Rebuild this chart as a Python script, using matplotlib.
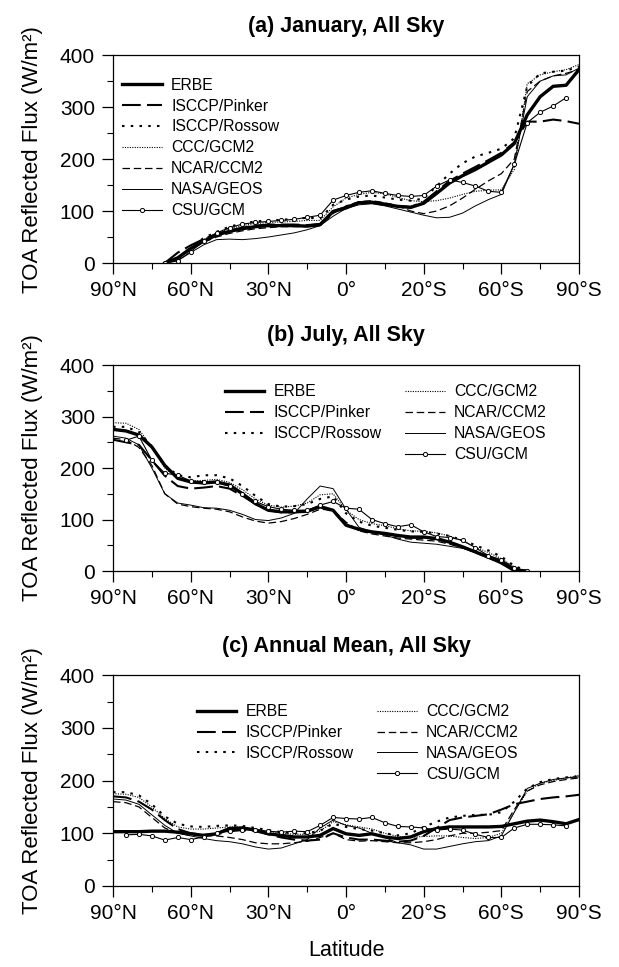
#TOA reflected flux by latitude, three panels (January, July, annual mean)

import numpy as np
import matplotlib
matplotlib.use("Agg")
import matplotlib.pyplot as plt
from matplotlib.lines import Line2D
from matplotlib.ticker import MultipleLocator

plt.rcParams['font.family'] = ['Liberation Sans', 'DejaVu Sans']

nan = np.nan

#latitude grid, north to south
lats = list(range(90, -91, -5))

names = ["ERBE", "ISCCP/Pinker", "ISCCP/Rossow", "CCC/GCM2", "NCAR/CCM2", "NASA/GEOS", "CSU/GCM"]

#(a) January
erbe_jan = [nan,nan,nan,nan,0,10,28,42,54,61,66,70,72,72,72,71,74,99,106,116,117,113,109,107,115,134,154,168,180,194,208,230,285,320,340,342,372]
pinker_jan = [nan,nan,nan,nan,0,20,34,46,56,63,68,72,74,74,74,73,75,100,108,117,118,114,110,108,118,138,158,172,185,198,212,232,272,272,276,273,268]
rossow_jan = [nan,nan,nan,nan,0,8,30,48,60,70,76,80,82,83,85,87,86,112,122,128,130,126,122,120,124,148,172,192,205,212,220,240,340,365,368,370,378]
ccc_jan = [nan,nan,nan,nan,0,8,28,45,58,66,72,76,78,79,80,82,82,108,125,132,136,133,126,120,118,120,125,132,138,140,141,180,345,362,368,372,382]
ncar_jan = [nan,nan,nan,nan,0,8,26,40,50,57,62,66,68,70,70,70,72,95,110,118,120,116,110,100,95,100,110,125,142,158,172,200,330,350,360,365,372]
nasa_jan = [nan,nan,nan,nan,0,5,20,35,45,46,45,47,50,54,58,64,72,90,105,112,114,110,104,98,92,87,88,96,110,122,132,190,320,350,360,362,375]
csu_jan = [nan,nan,nan,nan,0,4,22,42,58,68,75,78,80,82,84,88,92,121,130,136,139,134,130,128,130,148,160,155,148,138,136,190,270,290,302,318,nan]

#(b) July
erbe_jul = [275,272,264,241,205,180,173,171,173,167,150,131,118,115,115,116,125,118,89,81,76,73,69,66,66,63,56,47,37,27,16,1,0,nan,nan,nan,nan]
pinker_jul = [255,250,245,215,185,165,160,162,165,160,146,130,118,114,114,116,124,116,90,80,75,72,68,65,64,62,55,46,36,26,15,2,0,nan,nan,nan,nan]
rossow_jul = [280,280,270,242,205,186,182,186,186,180,165,146,130,125,126,130,140,145,112,96,88,84,80,77,76,73,68,60,50,40,28,10,0,nan,nan,nan,nan]
ccc_jul = [288,287,275,240,200,180,175,176,178,172,158,140,128,124,126,132,148,150,118,100,92,88,82,78,77,74,68,58,46,36,24,8,0,nan,nan,nan,nan]
ncar_jul = [258,255,240,205,150,130,125,122,120,115,105,97,93,96,102,110,120,118,95,78,72,68,64,62,60,58,52,45,36,28,17,4,0,nan,nan,nan,nan]
nasa_jul = [262,258,245,200,150,132,128,123,122,118,110,100,98,103,112,140,165,160,120,85,76,70,62,56,54,52,48,44,38,30,20,5,0,nan,nan,nan,nan]
csu_jul = [nan,254,262,215,190,186,175,172,172,165,150,135,125,120,118,118,128,135,122,120,100,92,86,90,76,67,65,60,45,30,22,6,0,nan,nan,nan,nan]

#(c) annual mean
erbe_ann = [103,103,103,104,104,102,99,96,99,109,110,106,99,96,93,93,96,109,99,96,99,93,90,93,103,109,112,112,112,112,113,118,123,125,122,118,126]
pinker_ann = [170,168,160,145,125,108,100,97,98,104,106,104,98,92,88,86,88,100,92,88,88,86,84,86,95,110,125,130,133,136,145,155,160,165,168,170,173]
rossow_ann = [178,178,172,155,132,118,113,112,114,115,114,110,106,102,100,100,105,118,112,108,105,100,96,100,112,122,130,133,135,135,140,160,185,197,203,206,208]
ccc_ann = [175,174,168,150,128,112,108,108,110,112,112,108,104,100,98,98,104,122,116,112,108,100,94,92,94,95,95,92,90,92,100,140,180,195,200,205,210]
ncar_ann = [160,158,150,130,110,100,96,95,95,92,88,82,80,80,82,85,92,100,88,85,86,84,82,82,84,88,95,100,100,102,105,145,180,192,198,202,205]
nasa_ann = [165,163,155,135,115,100,95,90,86,84,80,74,70,72,80,88,110,125,115,110,100,92,82,78,70,70,75,80,84,86,95,140,185,195,202,205,207]
csu_ann = [nan,97,98,95,87,92,88,93,100,104,107,106,104,102,104,103,115,130,128,127,130,120,113,112,110,106,108,106,98,92,92,110,117,117,116,114,nan]

titles = ["(a) January, All Sky", "(b) July, All Sky", "(c) Annual Mean, All Sky"]
xtick_pos = [90, 60, 30, 0, -30, -60, -90]
xtick_labels = ["90°N", "60°N", "30°N", "0°", "20°S", "60°S", "90°S"]

panels = [
    [erbe_jan, pinker_jan, rossow_jan, ccc_jan, ncar_jan, nasa_jan, csu_jan],
    [erbe_jul, pinker_jul, rossow_jul, ccc_jul, ncar_jul, nasa_jul, csu_jul],
    [erbe_ann, pinker_ann, rossow_ann, ccc_ann, ncar_ann, nasa_ann, csu_ann],
]

#line styles for each data set
styles = [
    dict(color='black', lw=2.4, ls='-'),
    dict(color='black', lw=1.5, ls=(0, (9, 3))),
    dict(color='black', lw=1.5, ls=(0, (1.2, 3))),
    dict(color='black', lw=0.8, ls=(0, (1, 1.2))),
    dict(color='black', lw=0.9, ls=(0, (6, 3))),
    dict(color='black', lw=0.7, ls='-'),
    dict(color='black', lw=0.8, ls='-', marker='o', ms=3, mfc='white', mew=0.7),
]

fig = plt.figure(figsize=(6.19, 9.67), dpi=100)
rects = [[0.1826, 0.728, 0.7528, 0.215],
         [0.1826, 0.4095, 0.7528, 0.213],
         [0.1826, 0.0838, 0.7528, 0.218]]
legend_anchor = [(-0.01, 0.96), (0.21, 0.975), (0.15, 0.93)]

for p in range(3):
    ax = fig.add_axes(rects[p])
    handles = []
    for k in range(7):
        h, = ax.plot(lats, panels[p][k], label=names[k], **styles[k])
        handles.append(h)
    ax.set_xlim(90, -90)
    ax.set_ylim(0, 400)
    ax.set_xticks(xtick_pos)
    ax.set_xticklabels(xtick_labels)
    ax.xaxis.set_minor_locator(MultipleLocator(15))
    ax.set_yticks([0, 100, 200, 300, 400])
    ax.yaxis.set_minor_locator(MultipleLocator(50))
    ax.tick_params(which='major', direction='out', length=8, width=0.9, labelsize=15, pad=5)
    ax.tick_params(which='minor', direction='out', length=4.5, width=0.8)
    for s in ax.spines.values():
        s.set_linewidth(0.9)
    ax.set_title(titles[p], fontsize=15.5, fontweight='bold', pad=17)
    ax.set_ylabel("TOA Reflected Flux (W/m²)", fontsize=16, labelpad=12)

    if p == 0:
        ax.legend(handles, names, loc='upper left', bbox_to_anchor=legend_anchor[p],
                  frameon=False, fontsize=11.3, handlelength=2.5, labelspacing=0.38,
                  handletextpad=0.6)
    else:
        #blank entry so the first column holds three names
        blank = Line2D([], [], linestyle='none')
        hs = handles[:3] + [blank] + handles[3:]
        ls = names[:3] + [""] + names[3:]
        ax.legend(hs, ls, loc='upper left', bbox_to_anchor=legend_anchor[p], ncol=2,
                  frameon=False, fontsize=11.3, handlelength=2.5, labelspacing=0.38,
                  handletextpad=0.6, columnspacing=1.5)

ax.set_xlabel("Latitude", fontsize=15.5, labelpad=12)

fig.savefig("out.png", dpi=100)
